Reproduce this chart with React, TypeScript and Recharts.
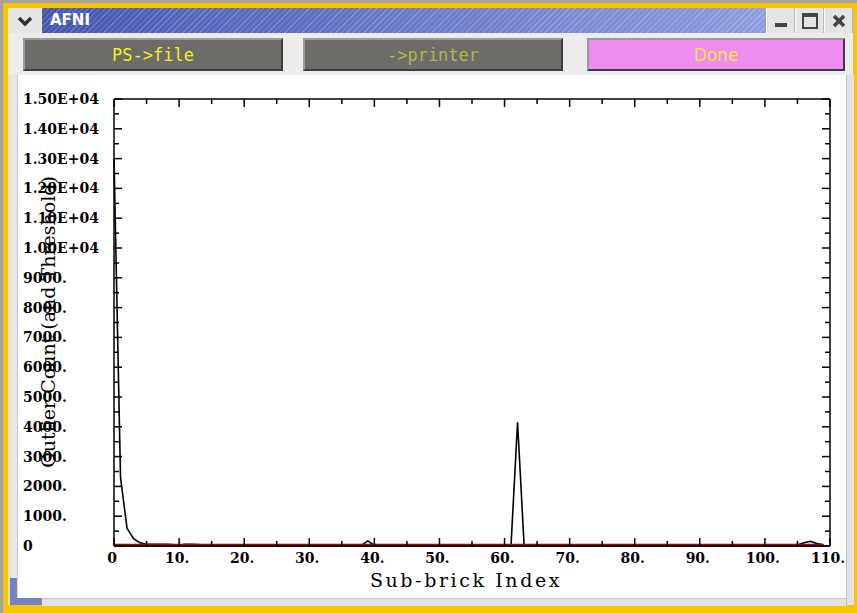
import React from "react";
import { LineChart, Line, XAxis, YAxis } from "recharts";

// outlier count per sub-brick (index 0..109)
const outlierCounts = [
  13000, 2300, 600, 250, 110, 60, 55, 55, 60, 50,
  30, 55, 60, 50, 20, 15, 18, 12, 15, 20,
  14, 12, 16, 18, 15, 13, 17, 14, 12, 15,
  18, 16, 14, 12, 15, 17, 14, 16, 20, 170,
  20, 15, 13, 16, 14, 12, 15, 18, 16, 14,
  13, 15, 17, 14, 12, 16, 15, 13, 14, 18,
  20, 40, 4150, 40, 18, 15, 13, 16, 14, 12,
  15, 17, 14, 16, 13, 15, 18, 14, 12, 16,
  15, 13, 17, 14, 12, 15, 16, 14, 13, 15,
  17, 14, 12, 16, 15, 13, 14, 16, 15, 18,
  20, 16, 14, 15, 18, 30, 110, 160, 80, 40,
];
const THRESHOLD = 25;

const xTicks = [0, 5, 10, 15, 20, 25, 30, 35, 40, 45, 50, 55, 60, 65, 70, 75, 80, 85, 90, 95, 100, 105, 110];
const yTicks = [
  0, 500, 1000, 1500, 2000, 2500, 3000, 3500, 4000, 4500, 5000, 5500, 6000, 6500, 7000, 7500,
  8000, 8500, 9000, 9500, 10000, 10500, 11000, 11500, 12000, 12500, 13000, 13500, 14000, 14500, 15000,
];

const rows = outlierCounts.map((v, i) => ({ idx: i, count: v, thr: THRESHOLD }));

const labelFont = "'DejaVu Serif', serif";

function yLabel(v: number) {
  if (v === 0) return "0";
  if (v >= 10000) return (v / 10000).toFixed(2) + "E+04";
  return `${v}.`;
}

function LeftTick(props: any) {
  const { x, y, payload } = props;
  const major = payload.value % 1000 === 0;
  return (
    <g>
      <line x1={x} y1={y} x2={x + (major ? 8 : 5)} y2={y} stroke="#000" strokeWidth={1.5} />
      {major && (
        <text x={23} y={y + 5} textAnchor="start" fontFamily={labelFont} fontWeight="bold" fontSize={14} fill="#000">
          {yLabel(payload.value)}
        </text>
      )}
    </g>
  );
}

function RightTick(props: any) {
  const { x, y, payload } = props;
  const major = payload.value % 1000 === 0;
  return <line x1={x} y1={y} x2={x - (major ? 8 : 5)} y2={y} stroke="#000" strokeWidth={1.5} />;
}

function BottomTick(props: any) {
  const { x, y, payload } = props;
  const major = payload.value % 10 === 0;
  return (
    <g>
      <line x1={x} y1={y} x2={x} y2={y - (major ? 8 : 5)} stroke="#000" strokeWidth={1.5} />
      {major && (
        <text x={x - 2} y={y + 17} textAnchor="middle" fontFamily={labelFont} fontWeight="bold" fontSize={14} fill="#000">
          {payload.value === 0 ? "0" : `${payload.value}.`}
        </text>
      )}
    </g>
  );
}

function TopTick(props: any) {
  const { x, y, payload } = props;
  const major = payload.value % 10 === 0;
  return <line x1={x} y1={y} x2={x} y2={y + (major ? 8 : 5)} stroke="#000" strokeWidth={1.5} />;
}

const axisLine = { stroke: "#000", strokeWidth: 1.5 };

function WinButton({ children }: { children: React.ReactNode }) {
  return (
    <div
      style={{
        width: 29,
        height: 25,
        background: "#e4e4e4",
        borderLeft: "1px solid #fafafa",
        borderRight: "1px solid #b8b8b8",
        display: "flex",
        alignItems: "center",
        justifyContent: "center",
        boxSizing: "border-box",
      }}
    >
      {children}
    </div>
  );
}

function ActionButton({ left, width, bg, color, font, label }: any) {
  return (
    <div
      style={{
        position: "absolute",
        left,
        top: 38,
        width,
        height: 33,
        background: bg,
        borderTop: "2px solid #9a9a9a",
        borderLeft: "2px solid #9a9a9a",
        borderBottom: "2px solid #3c3c3c",
        borderRight: "2px solid #3c3c3c",
        boxSizing: "border-box",
        display: "flex",
        alignItems: "center",
        justifyContent: "center",
        color,
        fontFamily: font,
        fontSize: 17,
      }}
    >
      {label}
    </div>
  );
}

export default function App() {
  return (
    <div style={{ position: "absolute", left: 0, top: 0, width: 857, height: 613, background: "#a4a4a4", overflow: "hidden" }}>
      {/* yellow focus frame */}
      <div style={{ position: "absolute", left: 3, top: 3, width: 854, height: 610, background: "#f6c700" }} />
      {/* window body */}
      <div style={{ position: "absolute", left: 8, top: 8, width: 845, height: 597, background: "#dedede" }} />
      {/* title bar */}
      <div style={{ position: "absolute", left: 8, top: 8, width: 845, height: 25, display: "flex" }}>
        <div
          style={{
            width: 34,
            height: 25,
            background: "#e6e6e6",
            display: "flex",
            alignItems: "center",
            justifyContent: "center",
          }}
        >
          <svg width={16} height={12}>
            <polyline points="2,3 8,9 14,3" fill="none" stroke="#333" strokeWidth={3.5} />
          </svg>
        </div>
        <div
          style={{
            flex: 1,
            height: 25,
            background:
              "repeating-linear-gradient(-45deg, rgba(255,255,255,0.2) 0px, rgba(255,255,255,0.2) 1px, rgba(0,0,0,0) 1px, rgba(0,0,0,0) 4px), linear-gradient(90deg, #4556b2, #8d9de0)",
            color: "#fff",
            fontFamily: "'DejaVu Sans', sans-serif",
            fontWeight: "bold",
            fontSize: 15,
            lineHeight: "25px",
            paddingLeft: 8,
          }}
        >
          AFNI
        </div>
        <WinButton>
          <div style={{ width: 12, height: 4, background: "#444", marginTop: 8 }} />
        </WinButton>
        <WinButton>
          <div style={{ width: 12, height: 10, border: "2px solid #444", borderTopWidth: 4 }} />
        </WinButton>
        <WinButton>
          <svg width={14} height={14}>
            <line x1={2} y1={2} x2={12} y2={12} stroke="#444" strokeWidth={3.5} />
            <line x1={12} y1={2} x2={2} y2={12} stroke="#444" strokeWidth={3.5} />
          </svg>
        </WinButton>
      </div>
      {/* button row */}
      <div style={{ position: "absolute", left: 8, top: 33, width: 845, height: 42, background: "#ececec" }} />
      <ActionButton left={23} width={260} bg="#6c6c68" color="#f2f21a" font="'DejaVu Sans Mono', monospace" label="PS->file" />
      <ActionButton left={303} width={260} bg="#6c6c68" color="#b6b650" font="'DejaVu Sans Mono', monospace" label="->printer" />
      <ActionButton left={587} width={258} bg="#ef8cef" color="#f6e24a" font="'DejaVu Sans', sans-serif" label="Done" />
      {/* drawing area frame */}
      <div style={{ position: "absolute", left: 10, top: 75, width: 7, height: 503, background: "#e6e6e6", borderRight: "1px solid #c8c8c8" }} />
      <div style={{ position: "absolute", left: 10, top: 578, width: 7, height: 27, background: "#7482c6" }} />
      <div style={{ position: "absolute", left: 10, top: 598, width: 32, height: 7, background: "#7482c6" }} />
      <div style={{ position: "absolute", left: 42, top: 598, width: 804, height: 7, background: "#e2e2e2", borderTop: "1px solid #c8c8c8" }} />
      <div style={{ position: "absolute", left: 846, top: 75, width: 7, height: 530, background: "#e2e2e2", borderLeft: "1px solid #c0c0c0" }} />
      <div style={{ position: "absolute", left: 18, top: 75, width: 828, height: 523, background: "#ffffff" }} />

      <div style={{ position: "absolute", left: 0, top: 0 }}>
        <LineChart width={857} height={613} data={rows} margin={{ top: 98, right: 26, bottom: 0, left: 0 }}>
          <XAxis
            dataKey="idx"
            type="number"
            domain={[0, 110]}
            ticks={xTicks}
            interval={0}
            height={67}
            tickSize={0}
            tickMargin={0}
            tickLine={false}
            axisLine={axisLine}
            tick={<BottomTick />}
            label={{
              content: (p: any) => (
                <text
                  x={p.viewBox.x + p.viewBox.width / 2 - 6}
                  y={587}
                  textAnchor="middle"
                  fontFamily={labelFont}
                  fontSize={19}
                  letterSpacing={2.6}
                  fill="#000"
                >
                  Sub-brick Index
                </text>
              ),
            }}
          />
          <XAxis
            xAxisId="top"
            orientation="top"
            dataKey="idx"
            type="number"
            domain={[0, 110]}
            ticks={xTicks}
            interval={0}
            height={1}
            tickSize={0}
            tickMargin={0}
            tickLine={false}
            axisLine={axisLine}
            tick={<TopTick />}
          />
          <YAxis
            type="number"
            domain={[0, 15000]}
            ticks={yTicks}
            interval={0}
            width={114}
            tickSize={0}
            tickMargin={0}
            tickLine={false}
            axisLine={axisLine}
            tick={<LeftTick />}
            label={{
              content: () => (
                <text
                  x={55}
                  y={322}
                  transform="rotate(-90 55 322)"
                  textAnchor="middle"
                  fontFamily={labelFont}
                  fontSize={19}
                  fill="#000"
                >
                  Outlier Count (and Threshold)
                </text>
              ),
            }}
          />
          <YAxis
            yAxisId="right"
            orientation="right"
            type="number"
            domain={[0, 15000]}
            ticks={yTicks}
            interval={0}
            width={1}
            tickSize={0}
            tickMargin={0}
            tickLine={false}
            axisLine={axisLine}
            tick={<RightTick />}
          />
          <Line
            xAxisId="top"
            yAxisId="right"
            dataKey="count"
            stroke="none"
            dot={false}
            activeDot={false}
            isAnimationActive={false}
          />
          <Line dataKey="count" type="linear" stroke="#000" strokeWidth={1.6} dot={false} activeDot={false} isAnimationActive={false} />
          <Line dataKey="thr" type="linear" stroke="#8e1212" strokeWidth={3} dot={false} activeDot={false} isAnimationActive={false} />
        </LineChart>
      </div>
    </div>
  );
}
